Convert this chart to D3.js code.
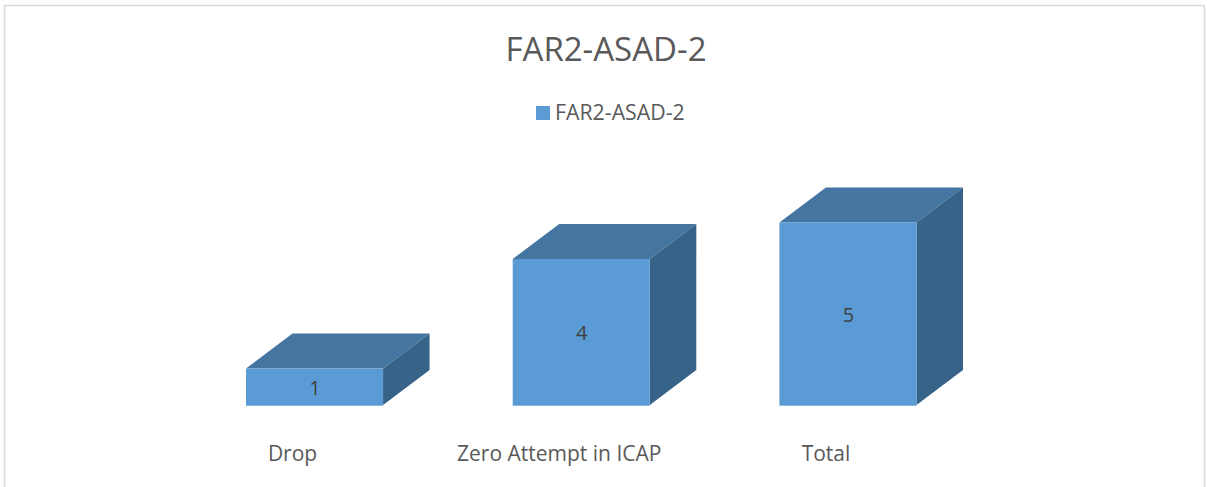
<!DOCTYPE html>
<html>
<head>
<meta charset="utf-8">
<script src="https://cdn.jsdelivr.net/npm/d3@7/dist/d3.min.js"></script>
<style>
html,body{margin:0;padding:0;background:#fff;overflow:hidden}
svg{display:block}
text{font-family:"Open Sans",sans-serif}
</style>
</head>
<body>
<svg id="chart" width="1207" height="487"></svg>
<script>
const chartTitle = "FAR2-ASAD-2";
const seriesName = "FAR2-ASAD-2";
const categories = ["Drop", "Zero Attempt in ICAP", "Total"];
const values = [1, 4, 5];

const colorFront = "#5b9bd5", colorTop = "#4575a1", colorSide = "#386388", colorEdge = "#8db8e2";
const depthX = 46.5, depthY = 35, labelShift = -22;

const svg = d3.select("#chart");
const x = d3.scaleBand().domain(categories).range([246, 916.5]).paddingInner(0.486).paddingOuter(0);
const y = d3.scaleLinear().domain([0, 5]).range([405, 222.5]);

// frame (open at the bottom)
svg.append("path")
  .attr("d", d3.line()([[4.5, 487], [4.5, 5.5], [1204.5, 5.5], [1204.5, 487]]))
  .attr("fill", "none").attr("stroke", "#d9d9d9").attr("stroke-width", 1.5);

svg.append("text").attr("x", 606).attr("y", 60.5).attr("text-anchor", "middle")
  .attr("font-size", 33).attr("fill", "#595959").text(chartTitle);

// legend
svg.append("rect").attr("x", 536).attr("y", 106).attr("width", 14).attr("height", 14).attr("fill", colorFront);
svg.append("text").attr("x", 555).attr("y", 120)
  .attr("font-size", 21.3).attr("fill", "#595959").text(seriesName);

const rows = categories.map((c, i) => ({c, v: values[i]}));
const bars = svg.append("g").selectAll("g").data(rows).join("g");

// top face
bars.append("path").attr("fill", colorTop).attr("d", d => {
  const l = x(d.c), r = l + x.bandwidth(), t = y(d.v);
  return d3.line()([[l, t], [l + depthX, t - depthY], [r + depthX, t - depthY], [r, t]]) + "Z";
});
// side face
bars.append("path").attr("fill", colorSide).attr("d", d => {
  const r = x(d.c) + x.bandwidth(), t = y(d.v), b = y(0);
  return d3.line()([[r, t], [r + depthX, t - depthY], [r + depthX, b - depthY], [r, b]]) + "Z";
});
// front face
bars.append("rect").attr("fill", colorFront)
  .attr("x", d => x(d.c)).attr("y", d => y(d.v))
  .attr("width", x.bandwidth()).attr("height", d => y(0) - y(d.v));
// light bottom edge on the front face
bars.append("line").attr("stroke", colorEdge).attr("stroke-width", 1)
  .attr("x1", d => x(d.c)).attr("x2", d => x(d.c) + x.bandwidth())
  .attr("y1", y(0) + 0.5).attr("y2", y(0) + 0.5);

// value labels
bars.append("text").attr("text-anchor", "middle")
  .attr("x", d => x(d.c) + x.bandwidth() / 2 + 0.5)
  .attr("y", d => (y(d.v) + y(0)) / 2 + 8)
  .attr("font-size", 20).attr("fill", "#404040").text(d => d.v);

// category labels
bars.append("text").attr("text-anchor", "middle")
  .attr("x", d => x(d.c) + x.bandwidth() / 2 + labelShift)
  .attr("y", 460.5).attr("font-size", 21).attr("fill", "#595959").text(d => d.c);
</script>
</body>
</html>
